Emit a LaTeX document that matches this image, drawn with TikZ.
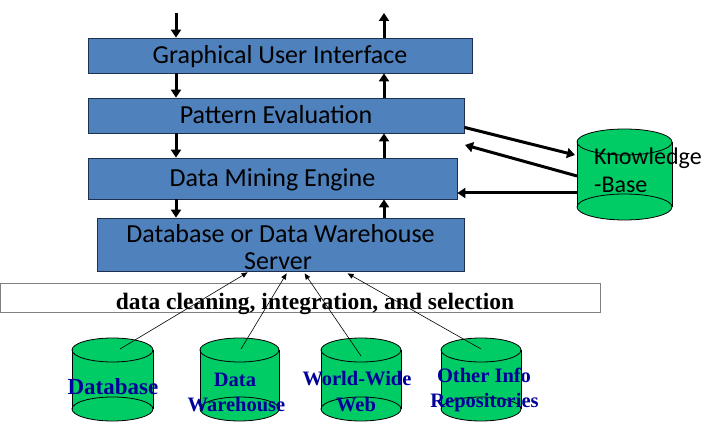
\documentclass[tikz,border=0pt]{standalone}
\usepackage{fontspec}
\setmainfont{Liberation Serif}
\newfontfamily\calib{Carlito}
\usetikzlibrary{arrows.meta,calc}
\definecolor{boxblue}{HTML}{4F81BD}
\definecolor{boxedge}{HTML}{1F2F4F}
\definecolor{cylgreen}{HTML}{00CC66}
\definecolor{labblue}{HTML}{000099}
\newcommand\mycyl[5]{%
  \fill[cylgreen] ({#1},{#3}) ellipse [x radius=#4, y radius=#5];
  \fill[cylgreen] ({#1-#4},{#2}) rectangle ({#1+#4},{#3});
  \draw[cylline] ({#1},{#3}) ellipse [x radius=#4, y radius=#5];
  \filldraw[cylline, fill=cylgreen] ({#1},{#2}) ellipse [x radius=#4, y radius=#5];
  \draw[cylline] ({#1-#4},{#2}) -- ({#1-#4},{#3});
  \draw[cylline] ({#1+#4},{#2}) -- ({#1+#4},{#3});
}
\begin{document}
\begin{tikzpicture}[x=1pt,y=-1pt,
  layer/.style={draw=boxedge, line width=0.8pt, fill=boxblue, inner sep=0pt,
    font=\calib\fontsize{26}{27}\selectfont, text height=21pt, text depth=5pt},
  boxfont/.style={font=\calib\fontsize{26}{27}\selectfont, inner sep=0pt},
  bigarrow/.style={line width=3pt, -{Triangle[width=10pt,length=8pt]}},
  thinarrow/.style={line width=0.6pt, -{Triangle[width=5pt,length=6pt]}},
  lab/.style={font=\bfseries\fontsize{20.5}{25}\selectfont, text=labblue, inner sep=0pt, anchor=base},
  cylline/.style={draw=black, line width=0.8pt}
]
\useasboundingbox (0,0) rectangle (718,430);

% layer boxes
\node[layer, minimum width=384pt, minimum height=35pt] (gui) at (280,55.5) {Graphical User Interface};
\node[layer, minimum width=376pt, minimum height=35pt] (pe) at (276,115.5) {Pattern Evaluation};
\node[layer, minimum width=369pt, minimum height=41pt] (dme) at (272.5,178.5) {Data Mining Engine};
\node[layer, minimum width=367pt, minimum height=53pt] (srv) at (280.5,244.5) {};
\node[boxfont, anchor=base] (srvt1) at (280.5,243) {Database or Data Warehouse};
\node[boxfont, anchor=base] (srvt2) at (278,270) {Server};

% column coordinates
\coordinate (L) at (176,0);
\coordinate (R) at (384,0);
\coordinate (intop) at (176,13);
\coordinate (outtop) at (384,13);

% vertical arrows
\draw[bigarrow] (intop) -- (gui.north -| L);
\draw[bigarrow] (gui.north -| R) -- (outtop);
\draw[bigarrow] (gui.south -| L) -- (pe.north -| L);
\draw[bigarrow] (pe.north -| R) -- (gui.south -| R);
\draw[bigarrow] (pe.south -| L) -- (dme.north -| L);
\draw[bigarrow] (dme.north -| R) -- (pe.south -| R);
\draw[bigarrow] (dme.south -| L) -- (srv.north -| L);
\draw[bigarrow] (srv.north -| R) -- (dme.south -| R);

% cleaning band
\node[draw=gray, line width=1pt, fill=white, minimum width=600pt, minimum height=29pt, inner sep=0pt] (clean) at (300.5,298.5) {};
\node[font=\bfseries\fontsize{23.5}{28}\selectfont, inner sep=0pt, anchor=base] (cleantext) at (315,310) {data cleaning, integration, and selection};

% knowledge base
\mycyl{624.5}{142}{207}{47.5}{13}
\node[boxfont, font=\calib\fontsize{24}{28}\selectfont, anchor=base west] (kb1) at (594,165) {Knowledge};
\node[boxfont, font=\calib\fontsize{24}{28}\selectfont, anchor=base west] (kb2) at (594,193) {-Base};
\coordinate (kbin) at (575,155);
\coordinate (kbout1) at (577,176);
\coordinate (kbend) at (465,145);
\coordinate (kbout2) at (577,193);
\draw[bigarrow] ($(pe.south east)+(0,-6)$) -- (kbin);
\draw[bigarrow] (kbout1) -- (kbend);
\draw[bigarrow] (kbout2) -- (dme.east |- kbout2);

% data sources
\mycyl{112.5}{350}{409}{40.5}{12}
\mycyl{239.5}{350}{409}{39.5}{12}
\mycyl{361}{350}{409}{40}{12}
\mycyl{481}{350}{409}{40}{12}

\node[lab, font=\bfseries\fontsize{23}{25}\selectfont] (dblab) at (113,395) {Database};
\node[lab] (dwlab1) at (235,387) {Data};
\node[lab] (dwlab2) at (236.5,412) {Warehouse};
\node[lab] (wwlab1) at (357,386) {World-Wide};
\node[lab] (wwlab2) at (356,412) {Web};
\node[lab] (oilab1) at (484,383) {Other Info};
\node[lab] (oilab2) at (484.5,407) {Repositories};

% source connectors
\coordinate (dbtop) at (120,349);
\coordinate (dwtop) at (241,349);
\coordinate (wwtop) at (361,356);
\coordinate (oitop) at (481,349);
\draw[thinarrow] (dbtop) -- ($(srv.south west)+(151,1)$);
\draw[thinarrow] (dwtop) -- ($(srv.south west)+(190,2)$);
\draw[thinarrow] (wwtop) -- ($(srv.south west)+(208,2)$);
\draw[thinarrow] (oitop) -- ($(srv.south west)+(251,2)$);
\end{tikzpicture}
\end{document}
